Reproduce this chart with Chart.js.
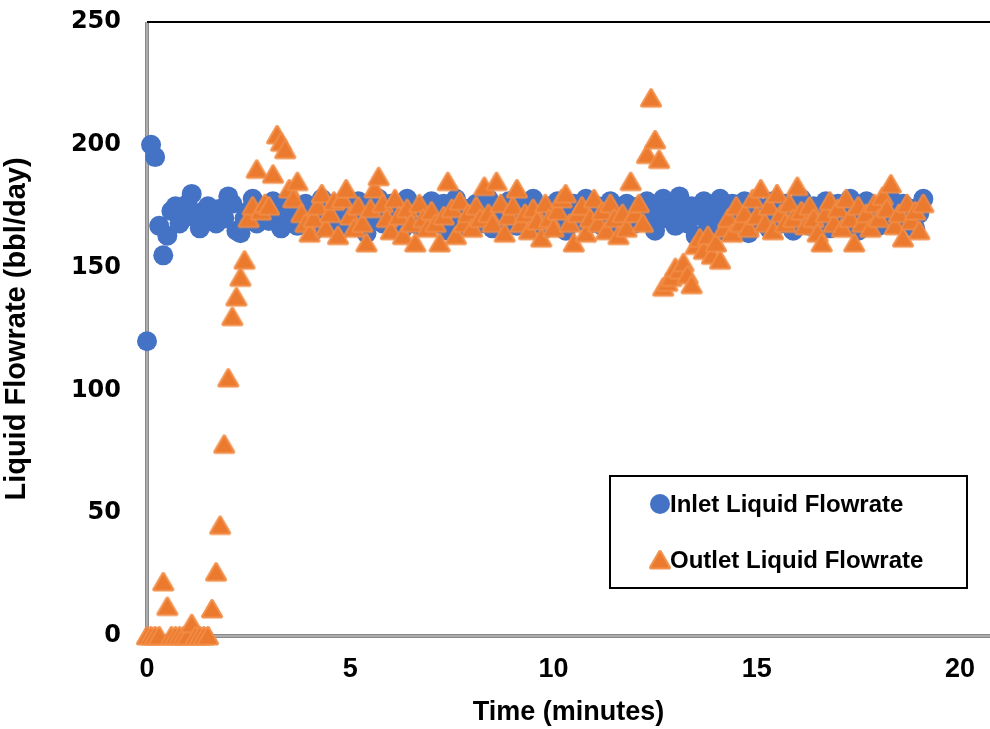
<!DOCTYPE html>
<html>
<head>
<meta charset="utf-8">
<script src="https://cdn.jsdelivr.net/npm/chart.js@4/dist/chart.umd.min.js"></script>
<style>
  html, body { margin: 0; padding: 0; background: #fff; }
  #wrap { width: 990px; height: 729px; }
</style>
</head>
<body>
<div id="wrap"><canvas id="flowChart" width="990" height="729"></canvas></div>
<script>
// Time samples (minutes)
const timeMin = [
  0.0, 0.1, 0.2, 0.3, 0.4, 0.5, 0.6, 0.7, 0.8, 0.9,
  1.0, 1.1, 1.2, 1.3, 1.4, 1.5, 1.6, 1.7, 1.8, 1.9,
  2.0, 2.1, 2.2, 2.3, 2.4, 2.5, 2.6, 2.7, 2.8, 2.9,
  3.0, 3.1, 3.2, 3.3, 3.4, 3.5, 3.6, 3.7, 3.8, 3.9,
  4.0, 4.1, 4.2, 4.3, 4.4, 4.5, 4.6, 4.7, 4.8, 4.9,
  5.0, 5.1, 5.2, 5.3, 5.4, 5.5, 5.6, 5.7, 5.8, 5.9,
  6.0, 6.1, 6.2, 6.3, 6.4, 6.5, 6.6, 6.7, 6.8, 6.9,
  7.0, 7.1, 7.2, 7.3, 7.4, 7.5, 7.6, 7.7, 7.8, 7.9,
  8.0, 8.1, 8.2, 8.3, 8.4, 8.5, 8.6, 8.7, 8.8, 8.9,
  9.0, 9.1, 9.2, 9.3, 9.4, 9.5, 9.6, 9.7, 9.8, 9.9,
  10.0, 10.1, 10.2, 10.3, 10.4, 10.5, 10.6, 10.7, 10.8, 10.9,
  11.0, 11.1, 11.2, 11.3, 11.4, 11.5, 11.6, 11.7, 11.8, 11.9,
  12.0, 12.1, 12.2, 12.3, 12.4, 12.5, 12.6, 12.7, 12.8, 12.9,
  13.0, 13.1, 13.2, 13.3, 13.4, 13.5, 13.6, 13.7, 13.8, 13.9,
  14.0, 14.1, 14.2, 14.3, 14.4, 14.5, 14.6, 14.7, 14.8, 14.9,
  15.0, 15.1, 15.2, 15.3, 15.4, 15.5, 15.6, 15.7, 15.8, 15.9,
  16.0, 16.1, 16.2, 16.3, 16.4, 16.5, 16.6, 16.7, 16.8, 16.9,
  17.0, 17.1, 17.2, 17.3, 17.4, 17.5, 17.6, 17.7, 17.8, 17.9,
  18.0, 18.1, 18.2, 18.3, 18.4, 18.5, 18.6, 18.7, 18.8, 18.9,
  19.0, 19.1
];

// Inlet liquid flowrate (bbl/day)
const inletFlow = [
  120, 200, 195, 167, 155, 163, 173, 175, 168, 172,
  176, 180, 170, 166, 173, 175, 171, 168, 174, 170,
  179, 176, 165, 164, 170, 173, 178, 168, 172, 175,
  169, 177, 173, 166, 171, 178, 174, 167, 172, 176,
  170, 165, 174, 178, 168, 172, 176, 169, 166, 175,
  173, 167, 177, 171, 164, 175, 170, 178, 168, 173,
  176, 169, 172, 166, 178, 171, 174, 167, 175, 170,
  177, 168, 173, 176, 165, 172, 178, 170, 167, 174,
  171, 176, 168, 173, 178, 166, 172, 175, 169, 177,
  173, 167, 176, 170, 174, 178, 168, 172, 166, 175,
  170, 177, 173, 165, 171, 176, 169, 174, 178, 168,
  172, 175, 167, 173, 177, 170, 166, 174, 176, 171,
  168, 175, 172, 177, 169, 165, 173, 178, 170, 174,
  167, 179, 172, 168, 175, 163, 171, 177, 166, 174,
  170, 178, 165, 173, 176, 168, 172, 177, 164, 171,
  175, 169, 174, 166, 177, 171, 168, 176, 173, 165,
  172, 178, 170, 167, 175, 169, 174, 177, 166, 172,
  176, 168, 173, 178, 170, 165, 174, 177, 169, 172,
  167, 175, 171, 178, 173, 168, 176, 170, 174, 166,
  172, 178
];

// Outlet liquid flowrate (bbl/day)
const outletFlow = [
  0, 0, 0, 0, 22, 12, 0, 0, 0, 0,
  0, 5, 0, 0, 0, 0, 11, 26, 45, 78,
  105, 130, 138, 146, 153, 170, 175, 190, 173, 176,
  175, 188, 204, 201, 198, 182, 178, 185, 172, 168,
  164, 170, 175, 180, 166, 172, 177, 163, 178, 182,
  171, 166, 175, 168, 160, 174, 182, 187, 176, 170,
  165, 178, 171, 163, 174, 168, 160, 176, 170, 166,
  173, 168, 160, 171, 185, 174, 163, 177, 168, 172,
  166, 175, 170, 183, 172, 168, 185, 176, 164, 171,
  175, 182, 168, 172, 165, 174, 169, 162, 176, 170,
  166, 173, 178, 180, 168, 160, 172, 175, 164, 170,
  178, 168, 173, 165, 176, 170, 163, 172, 166, 185,
  172, 176, 168, 196, 219, 202, 194, 142, 144, 146,
  150, 149, 152, 147, 143, 159, 162, 157, 163, 155,
  160, 153, 166, 170, 164, 175, 168, 172, 166, 178,
  171, 182, 168, 175, 165, 180, 172, 168, 176, 170,
  183, 173, 167, 175, 170, 164, 160, 172, 177, 168,
  174, 166, 178, 170, 160, 175, 168, 172, 166, 176,
  170, 179, 174, 184, 167, 172, 162, 176, 169, 173,
  165, 176
];

const xTicks = [0, 5, 10, 15, 20];
const yTicks = [0, 50, 100, 150, 200, 250];

const BLUE = '#4472C4';
const ORANGE = '#ED7D31';

// rounded orange triangle marker
function makeTriangle() {
  const c = document.createElement('canvas');
  c.width = 24;
  c.height = 24;
  const g = c.getContext('2d');
  g.beginPath();
  g.moveTo(12, 4);
  g.lineTo(21, 19.5);
  g.lineTo(3, 19.5);
  g.closePath();
  g.lineJoin = 'round';
  g.lineWidth = 4;
  g.strokeStyle = 'rgba(241,140,70,0.95)';
  g.stroke();
  g.fillStyle = '#EB7A2E';
  g.fill();
  return c;
}
const triMarker = makeTriangle();

const toPoints = (ys) => timeMin.map((t, i) => ({ x: t, y: ys[i] }));

// axis lines (grey double line) + black top line
const frame = {
  id: 'frame',
  beforeDatasetsDraw(chart) {
    const { ctx, chartArea: a } = chart;
    ctx.save();
    ctx.fillStyle = '#8a8a8a';
    ctx.fillRect(a.left - 2, a.top, 4, a.bottom - a.top + 2);
    ctx.fillRect(a.left - 2, a.bottom - 2, a.right - a.left + 2, 4);
    ctx.fillStyle = '#d0d0d0';
    ctx.fillRect(a.left - 0.5, a.top, 1, a.bottom - a.top);
    ctx.fillRect(a.left, a.bottom - 0.5, a.right - a.left, 1);
    ctx.fillStyle = '#000';
    ctx.fillRect(a.left, a.top - 1, a.right - a.left, 2);
    ctx.restore();
  }
};

// legend box inside plot
const legendBox = {
  id: 'legendBox',
  afterDraw(chart) {
    const ctx = chart.ctx;
    ctx.save();
    ctx.fillStyle = '#fff';
    ctx.fillRect(610, 476, 357, 112);
    ctx.strokeStyle = '#000';
    ctx.lineWidth = 2;
    ctx.strokeRect(610, 476, 357, 112);

    ctx.beginPath();
    ctx.arc(660, 504, 10, 0, Math.PI * 2);
    ctx.fillStyle = BLUE;
    ctx.fill();
    ctx.drawImage(triMarker, 648, 548);

    ctx.fillStyle = '#000';
    ctx.font = 'bold 24px "Liberation Sans", Arial, sans-serif';
    ctx.textBaseline = 'middle';
    ctx.fillText('Inlet Liquid Flowrate', 670, 505);
    ctx.fillText('Outlet Liquid Flowrate', 670, 561);
    ctx.restore();
  }
};

new Chart(document.getElementById('flowChart'), {
  type: 'scatter',
  data: {
    datasets: [
      {
        label: 'Inlet Liquid Flowrate',
        data: toPoints(inletFlow),
        pointStyle: 'circle',
        pointRadius: 10,
        pointBackgroundColor: BLUE,
        pointBorderWidth: 0,
        clip: false,
        order: 2
      },
      {
        label: 'Outlet Liquid Flowrate',
        data: toPoints(outletFlow),
        pointStyle: triMarker,
        pointRadius: 10,
        clip: false,
        order: 1
      }
    ]
  },
  options: {
    responsive: false,
    animation: false,
    events: [],
    layout: { autoPadding: false, padding: { top: 22, right: 0, left: 0, bottom: 0 } },
    plugins: {
      legend: { display: false },
      tooltip: { enabled: false }
    },
    scales: {
      x: {
        type: 'linear',
        min: 0,
        max: 20.74,
        afterBuildTicks: (s) => { s.ticks = xTicks.map(v => ({ value: v })); },
        afterFit: (s) => { s.height = 93; s.paddingLeft = 0; s.paddingRight = 0; },
        grid: { display: false, drawTicks: false },
        border: { display: false },
        ticks: {
          padding: 17,
          color: '#000',
          font: { family: '"Liberation Sans", Arial', size: 27, weight: 'bold' }
        },
        title: {
          display: true,
          text: 'Time (minutes)',
          color: '#000',
          padding: { top: 0, bottom: 0 },
          font: { family: '"Liberation Sans", Arial', size: 27, weight: 'bold' }
        }
      },
      y: {
        min: 0,
        max: 250,
        afterBuildTicks: (s) => { s.ticks = yTicks.map(v => ({ value: v })); },
        afterFit: (s) => { s.width = 147; s.paddingTop = 0; s.paddingBottom = 0; },
        grid: { display: false, drawTicks: false },
        border: { display: false },
        ticks: {
          padding: 26,
          color: '#000',
          font: { family: '"DejaVu Sans", sans-serif', size: 24, weight: 'bold' }
        },
        title: {
          display: true,
          text: 'Liquid Flowrate (bbl/day)',
          color: '#000',
          padding: { top: 0, bottom: 12 },
          font: { family: '"Liberation Sans", Arial', size: 29, weight: 'bold' }
        }
      }
    }
  },
  plugins: [frame, legendBox]
});
</script>
</body>
</html>
